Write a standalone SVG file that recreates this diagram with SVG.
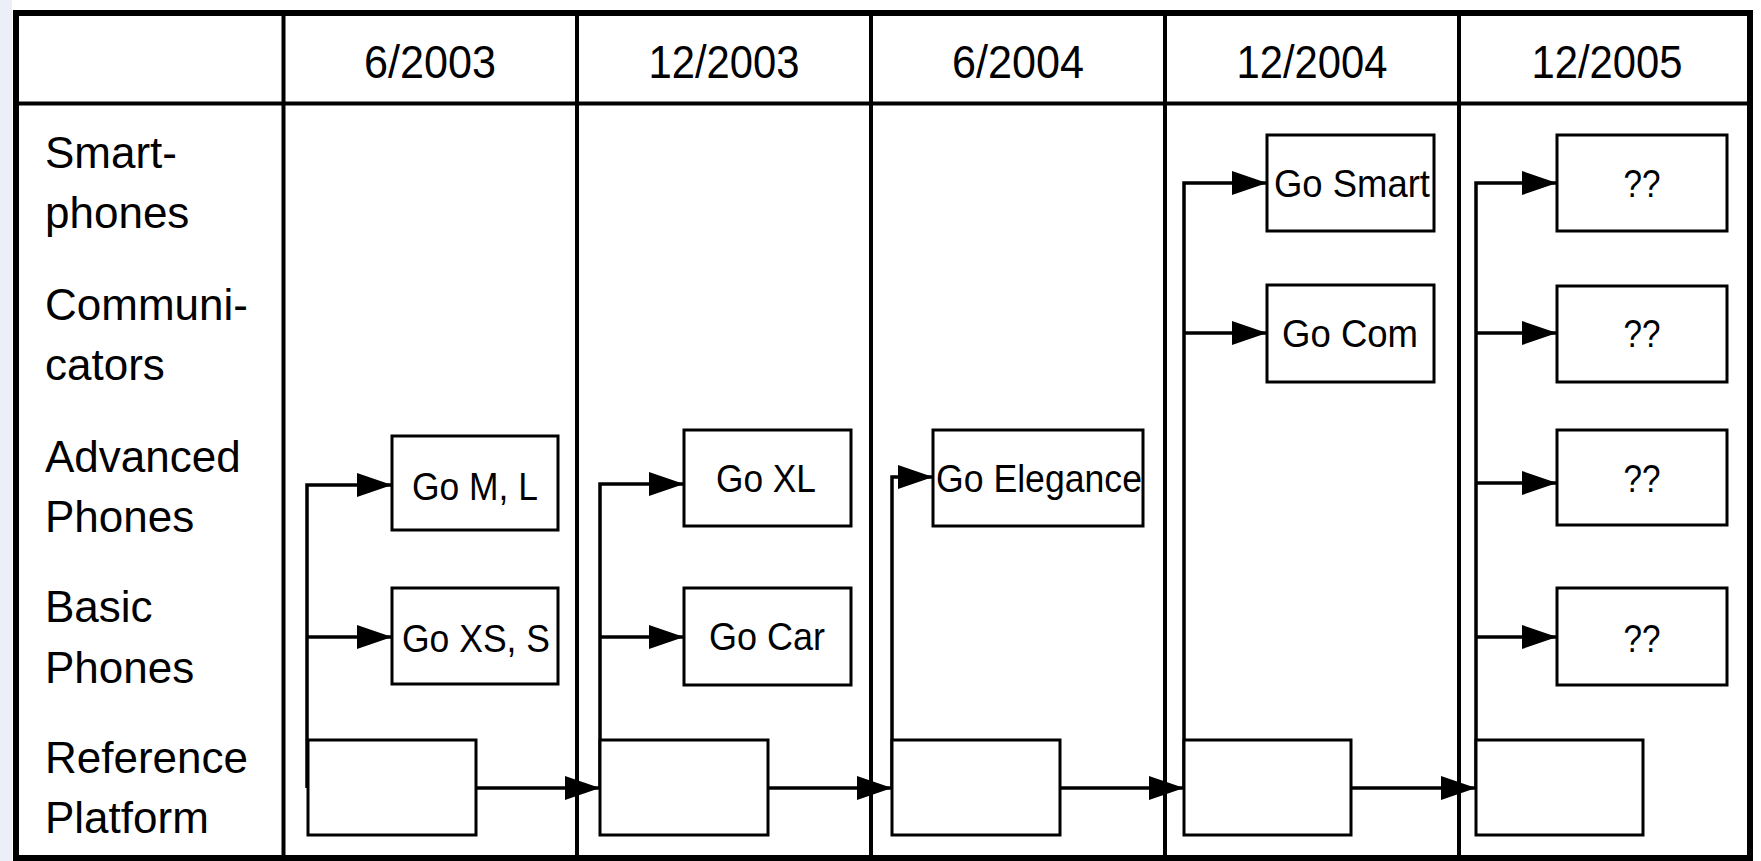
<svg xmlns="http://www.w3.org/2000/svg" width="1761" height="861" viewBox="0 0 1761 861">
<style>
text{font-family:"Liberation Sans",Arial,sans-serif;fill:#000}
.hd{font-size:47px;text-anchor:middle}
.rl{font-size:44px}
.bx{font-size:39px;text-anchor:middle}
.box{fill:#fff;stroke:#000;stroke-width:3}
.grid{stroke:#000;stroke-width:4;fill:none}
.con{stroke:#000;stroke-width:3.5;fill:none}
</style>
<defs>
<marker id="ah" viewBox="0 0 35 24" refX="35" refY="12" markerWidth="35" markerHeight="24" markerUnits="userSpaceOnUse" orient="auto">
<path d="M0,0 L35,12 L0,24 Z" fill="#000"/>
</marker>
</defs>
<rect x="0" y="0" width="1761" height="861" fill="#fff"/>
<rect x="0" y="0" width="12" height="861" fill="#eceff7"/>
<g id="table">
<rect x="16" y="13" width="1734" height="845" fill="#fff" stroke="#000" stroke-width="6"/>
<line class="grid" x1="16" y1="103.5" x2="1750" y2="103.5"/>
<line class="grid" x1="283.5" y1="13" x2="283.5" y2="858"/>
<line class="grid" x1="577" y1="13" x2="577" y2="858"/>
<line class="grid" x1="871" y1="13" x2="871" y2="858"/>
<line class="grid" x1="1165" y1="13" x2="1165" y2="858"/>
<line class="grid" x1="1459" y1="13" x2="1459" y2="858"/>
</g>
<g id="headers">
<text class="hd" x="430" y="78" textLength="132" lengthAdjust="spacingAndGlyphs">6/2003</text>
<text class="hd" x="724" y="78" textLength="151" lengthAdjust="spacingAndGlyphs">12/2003</text>
<text class="hd" x="1018" y="78" textLength="132" lengthAdjust="spacingAndGlyphs">6/2004</text>
<text class="hd" x="1312" y="78" textLength="151" lengthAdjust="spacingAndGlyphs">12/2004</text>
<text class="hd" x="1607" y="78" textLength="151" lengthAdjust="spacingAndGlyphs">12/2005</text>
</g>
<g id="row-labels">
<text class="rl" x="45" y="168">Smart-</text>
<text class="rl" x="45" y="228">phones</text>
<text class="rl" x="45" y="320">Communi-</text>
<text class="rl" x="45" y="380">cators</text>
<text class="rl" x="45" y="472">Advanced</text>
<text class="rl" x="45" y="532">Phones</text>
<text class="rl" x="45" y="622">Basic</text>
<text class="rl" x="45" y="683">Phones</text>
<text class="rl" x="45" y="773">Reference</text>
<text class="rl" x="45" y="833">Platform</text>
</g>
<g id="connectors">
<path class="con" d="M307,788 V485 H392" marker-end="url(#ah)"/>
<path class="con" d="M307,637 H392" marker-end="url(#ah)"/>
<path class="con" d="M476,788 H600" marker-end="url(#ah)"/>
<path class="con" d="M600,788 V484 H684" marker-end="url(#ah)"/>
<path class="con" d="M600,637 H684" marker-end="url(#ah)"/>
<path class="con" d="M768,788 H892" marker-end="url(#ah)"/>
<path class="con" d="M892,788 V477 H933" marker-end="url(#ah)"/>
<path class="con" d="M1060,788 H1184" marker-end="url(#ah)"/>
<path class="con" d="M1184,788 V183 H1267" marker-end="url(#ah)"/>
<path class="con" d="M1184,333 H1267" marker-end="url(#ah)"/>
<path class="con" d="M1351,788 H1476" marker-end="url(#ah)"/>
<path class="con" d="M1476,788 V183 H1557" marker-end="url(#ah)"/>
<path class="con" d="M1476,333 H1557" marker-end="url(#ah)"/>
<path class="con" d="M1476,483 H1557" marker-end="url(#ah)"/>
<path class="con" d="M1476,637 H1557" marker-end="url(#ah)"/>
</g>
<g id="ref-0"><rect class="box" x="308" y="740" width="168" height="95"/></g>
<g id="ref-1"><rect class="box" x="600" y="740" width="168" height="95"/></g>
<g id="ref-2"><rect class="box" x="892" y="740" width="168" height="95"/></g>
<g id="ref-3"><rect class="box" x="1184" y="740" width="167" height="95"/></g>
<g id="ref-4"><rect class="box" x="1476" y="740" width="167" height="95"/></g>
<g id="go-ml"><rect class="box" x="392" y="436" width="166" height="94"/><text class="bx" x="475" y="500" textLength="126" lengthAdjust="spacingAndGlyphs">Go M, L</text></g>
<g id="go-xs"><rect class="box" x="392" y="588" width="166" height="96"/><text class="bx" x="476" y="652" textLength="148" lengthAdjust="spacingAndGlyphs">Go XS, S</text></g>
<g id="go-xl"><rect class="box" x="684" y="430" width="167" height="96"/><text class="bx" x="766" y="492" textLength="100" lengthAdjust="spacingAndGlyphs">Go XL</text></g>
<g id="go-car"><rect class="box" x="684" y="588" width="167" height="97"/><text class="bx" x="767" y="650" textLength="116" lengthAdjust="spacingAndGlyphs">Go Car</text></g>
<g id="go-elegance"><rect class="box" x="933" y="430" width="210" height="96"/><text class="bx" x="1039" y="492" textLength="206" lengthAdjust="spacingAndGlyphs">Go Elegance</text></g>
<g id="go-smart"><rect class="box" x="1267" y="135" width="167" height="96"/><text class="bx" x="1352" y="197" textLength="156" lengthAdjust="spacingAndGlyphs">Go Smart</text></g>
<g id="go-com"><rect class="box" x="1267" y="285" width="167" height="97"/><text class="bx" x="1350" y="347" textLength="136" lengthAdjust="spacingAndGlyphs">Go Com</text></g>
<g id="q-1"><rect class="box" x="1557" y="135" width="170" height="96"/><text class="bx" x="1642" y="197" textLength="37" lengthAdjust="spacingAndGlyphs">??</text></g>
<g id="q-2"><rect class="box" x="1557" y="286" width="170" height="96"/><text class="bx" x="1642" y="347" textLength="37" lengthAdjust="spacingAndGlyphs">??</text></g>
<g id="q-3"><rect class="box" x="1557" y="430" width="170" height="95"/><text class="bx" x="1642" y="492" textLength="37" lengthAdjust="spacingAndGlyphs">??</text></g>
<g id="q-4"><rect class="box" x="1557" y="588" width="170" height="97"/><text class="bx" x="1642" y="652" textLength="37" lengthAdjust="spacingAndGlyphs">??</text></g>
</svg>
